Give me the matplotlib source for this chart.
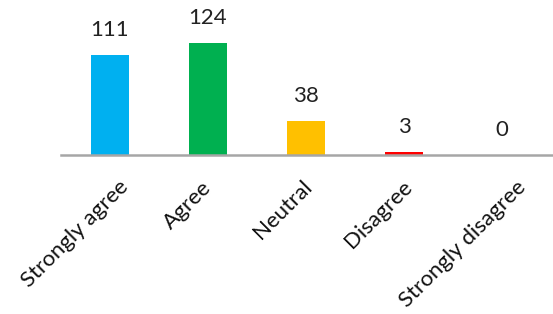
import matplotlib
matplotlib.use('Agg')
import matplotlib.pyplot as plt
from matplotlib.transforms import ScaledTranslation

categories = ['Strongly agree', 'Agree', 'Neutral', 'Disagree', 'Strongly disagree']
values = [111, 124, 38, 3, 0]
colors = ['#00B0F0', '#00B050', '#FFC000', '#FF0000', '#7030A0']

plt.rcParams['font.family'] = ['Lato', 'DejaVu Sans']

W, H = 553, 314
fig = plt.figure(figsize=(W / 100, H / 100), dpi=100)
ax = fig.add_axes([61 / W, 1 - 155 / H, 1 - 61 / W, 155 / H])

x = list(range(len(categories)))
ax.bar(x, values, width=0.39, color=colors, zorder=2)
ax.set_xlim(-0.5, 4.52)
ax.set_ylim(0, 172)

for s in ['top', 'right', 'left']:
    ax.spines[s].set_visible(False)
ax.spines['bottom'].set_color('#A6A6A6')
ax.spines['bottom'].set_linewidth(1.8)
ax.spines['bottom'].set_zorder(3)
ax.set_yticks([])
ax.set_xticks([])

for i, v in zip(x, values):
    ax.annotate(str(v), (i, v), xytext=(0, 13.7), textcoords='offset points',
                ha='center', va='baseline', fontsize=16, color='#222222')

base = ax.get_xaxis_transform()
texts = []
for i, c in zip(x, categories):
    t = ax.text(i, 0, c, rotation=45, rotation_mode='anchor', ha='right', va='top',
                fontsize=16, color='#111111', transform=base)
    texts.append(t)

fig.canvas.draw()
for t in texts:
    w = t.get_window_extent().width
    dx = (0.26 * (w - 52) - 8) / 100.0
    t.set_transform(base + ScaledTranslation(dx, -22 / 100.0, fig.dpi_scale_trans))

fig.savefig('out.png', dpi=100)
